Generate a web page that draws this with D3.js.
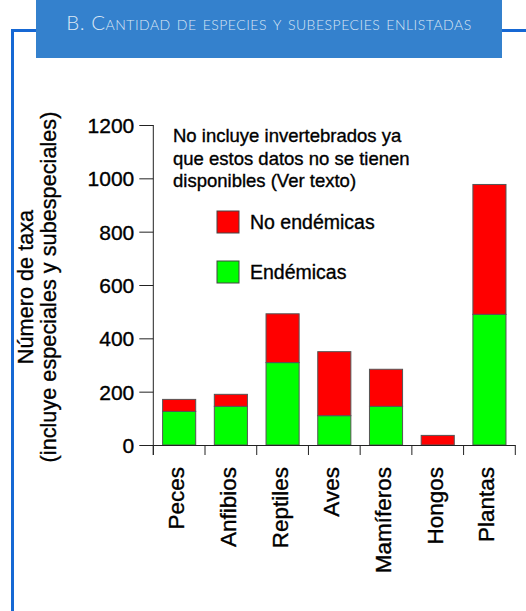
<!DOCTYPE html>
<html><head><meta charset="utf-8">
<script src="https://cdn.jsdelivr.net/npm/d3@7"></script>
<style>
html,body{margin:0;padding:0;background:#fff;}
svg{display:block;}
text.c{font-family:"Liberation Sans",Arial,sans-serif;fill:#000;stroke:#000;stroke-width:0.35px;}
</style></head>
<body>
<svg id="chart" width="526" height="611"></svg>
<script>
const categories = ["Peces","Anfibios","Reptiles","Aves","Mamíferos","Hongos","Plantas"];
const endemicas = [126,145,309,110,145,0,490];
const noEndemicas = [45,45,183,240,139,36,487];
const yTicks = [0,200,400,600,800,1000,1200];
const seriesNames = ["No endémicas","Endémicas"];
const seriesColors = ["#ff0000","#00ff00"];
const titleText = "B. Cantidad de especies y subespecies enlistadas";
const noteLines = ["No incluye invertebrados ya","que estos datos no se tienen","disponibles (Ver texto)"];
const yTitleLines = ["Número de taxa","(incluye especiales y subespeciales)"];

const svg = d3.select("#chart");

// frame + title banner
const frameColor = "#1668d4";
svg.append("path")
  .attr("d","M12.5,611 V30.5 H40 M498,30.5 H526")
  .attr("fill","none").attr("stroke",frameColor).attr("stroke-width",3);
svg.append("rect").attr("x",36).attr("y",0).attr("width",466).attr("height",58).attr("fill","#3481cd");
svg.append("text").attr("x",269).attr("y",30).attr("text-anchor","middle")
  .style("font-family","Lato, 'DejaVu Sans', sans-serif").style("font-weight","300")
  .style("font-variant","small-caps").style("font-size","20.5px").style("fill","#dbe7f5")
  .style("letter-spacing","0.5px")
  .text(titleText);

// scales
const y = d3.scaleLinear().domain([0,1200]).range([445,125]);
const x = d3.scaleBand().domain(categories).range([153.3,515.3]).paddingInner(0.36).paddingOuter(0.18);

// stacked data
const rows = categories.map((c,i)=>({cat:c, "Endémicas":endemicas[i], "No endémicas":noEndemicas[i]}));
const stack = d3.stack().keys(["Endémicas","No endémicas"])(rows);
const color = d3.scaleOrdinal().domain(seriesNames).range(seriesColors);

const g = svg.append("g");
stack.forEach(layer=>{
  g.append("g").selectAll("rect").data(layer.filter(d=>d[1]-d[0]>0)).join("rect")
    .attr("x",d=>x(d.data.cat))
    .attr("width",x.bandwidth())
    .attr("y",d=>y(d[1]))
    .attr("height",d=>y(d[0])-y(d[1]))
    .attr("fill",color(layer.key))
    .attr("stroke","#555").attr("stroke-width",1);
});

// y axis
const yAxis = d3.axisLeft(y).tickValues(yTicks).tickFormat(d3.format("d")).tickSize(14).tickPadding(5);
const ya = svg.append("g").attr("transform","translate(153.3,0)").call(yAxis);
ya.select(".domain").remove();
ya.selectAll(".tick line").attr("stroke","#222");
ya.selectAll(".tick text").attr("class","c").style("font-size","21px").attr("dy","0.36em");
svg.append("line").attr("x1",153.3).attr("x2",153.3).attr("y1",125).attr("y2",455).attr("stroke","#222");

// x axis
const x0 = x.range()[0];
svg.append("line").attr("x1",x0).attr("x2",x.range()[1]).attr("y1",445.5).attr("y2",445.5).attr("stroke","#222");
const bounds = d3.range(categories.length+1).map(i=>x0 + i*x.step());
svg.append("g").selectAll("line").data(bounds).join("line")
  .attr("x1",d=>d).attr("x2",d=>d).attr("y1",445).attr("y2",455).attr("stroke","#222");
svg.append("g").selectAll("text").data(categories).join("text").attr("class","c")
  .attr("transform",d=>`translate(${x(d)+x.bandwidth()/2+5},467) rotate(-90)`)
  .attr("text-anchor","end")
  .style("font-size","22.5px")
  .text(d=>d);

// y title
const yt = svg.append("text").attr("class","c").attr("transform","translate(0,287) rotate(-90)").attr("text-anchor","middle").style("font-size","21.7px");
yTitleLines.forEach((t,i)=>yt.append("tspan").attr("x",0).attr("y",33+i*23).text(t));

// note
const note = svg.append("text").attr("class","c").style("font-size","18.5px");
noteLines.forEach((t,i)=>note.append("tspan").attr("x",173).attr("y",142+i*22.5).text(t));

// legend
const legend = svg.append("g");
seriesNames.forEach((s,i)=>{
  const ly = 211 + i*50;
  legend.append("rect").attr("x",217).attr("y",ly).attr("width",22).attr("height",22)
    .attr("fill",color(s)).attr("stroke","#444").attr("stroke-width",1);
  legend.append("text").attr("class","c").attr("x",250).attr("y",ly+18).style("font-size","19.5px").text(s);
});
</script>
</body></html>
